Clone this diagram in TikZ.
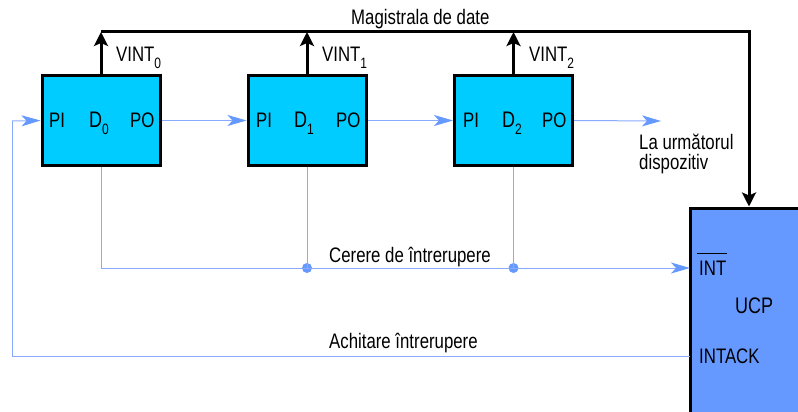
\documentclass[tikz,border=0pt]{standalone}
\usepackage{fontspec}
\setmainfont{Liberation Sans}[FakeStretch=0.8]
\usetikzlibrary{arrows.meta}
\definecolor{cyanbox}{HTML}{00CCFF}
\definecolor{ucpblue}{HTML}{6699FF}
\definecolor{wirecol}{HTML}{88AAFF}
\newcommand\lowsub[1]{\raisebox{-0.55ex}{\fontsize{15}{15}\selectfont #1}}
\begin{document}
\begin{tikzpicture}[x=1pt,y=-1pt,
  devbox/.style={draw=black, line width=3pt, fill=cyanbox, minimum width=118pt, minimum height=89pt, inner sep=0pt},
  cpubox/.style={draw=black, line width=3pt, fill=ucpblue, minimum width=140pt, minimum height=232pt, inner sep=0pt},
  wire/.style={draw=wirecol, line width=1pt},
  warrow/.style={wire, -{Stealth[length=19pt,width=11pt,inset=5pt,color=ucpblue]}},
  bus/.style={draw=black, line width=3pt},
  busarrow/.style={bus, -{Stealth[length=14pt,width=14pt,inset=3pt]}},
  txt/.style={inner sep=0pt, anchor=base west, font=\fontsize{21}{25}\selectfont},
  bigtxt/.style={inner sep=0pt, anchor=base west, font=\fontsize{22.5}{26}\selectfont},
  jdot/.style={fill=ucpblue, draw=none, circle, minimum size=10pt, inner sep=0pt}
]
\useasboundingbox (0,0) rectangle (798,412);
% boxes
\node[devbox] (d0) at (101,120.5) {};
\node[devbox] (d1) at (307,120.5) {};
\node[devbox] (d2) at (513.5,120.5) {};
\node[cpubox] (ucp) at (760,324) {};
% coordinates
\coordinate (b0) at (101,32);
\coordinate (b1) at (307,32);
\coordinate (b2) at (513.5,32);
\coordinate (bE) at (749,32);
\coordinate (nx) at (661,121);
\coordinate (fbT) at (12,121);
\coordinate (fbL) at (12,356);
\coordinate (ackp) at (690,356);
\coordinate (intp) at (690,268);
\coordinate (r0) at (101,268);
% bus
\draw[busarrow] (d0.north) -- (b0);
\draw[busarrow] (d1.north) -- (b1);
\draw[busarrow] (d2.north) -- (b2);
\draw[busarrow] (b0) -- (bE) -- (ucp.north -| bE);
% daisy chain
\draw[warrow] (fbT) -- (d0.west);
\draw[warrow] (d0.east) -- (d1.west);
\draw[warrow] (d1.east) -- (d2.west);
\draw[warrow] (d2.east) -- (nx);
\draw[wire] (ackp) -- (fbL) -- (fbT);
% interrupt request
\node[jdot] (j1) at (307,268) {};
\node[jdot] (j2) at (513.5,268) {};
\draw[wire] (d0.south) -- (r0) -- (j1.center);
\draw[wire] (d1.south) -- (j1.center);
\draw[wire] (d2.south) -- (j2.center);
\draw[warrow] (j1.center) -- (intp);
% labels
\node[txt] (lbus) at (351,25) {Magistrala de date};
\node[txt] (v0) at (116,62) {VINT\lowsub{0}};
\node[txt] (v1) at (322,62) {VINT\lowsub{1}};
\node[txt] (v2) at (529,62) {VINT\lowsub{2}};
\node[txt] (pi0) at (49,128) {PI};
\node[txt] (po0) at (130,128) {PO};
\node[bigtxt] (n0) at (89,128) {D\lowsub{0}};
\node[txt] (pi1) at (256,128) {PI};
\node[txt] (po1) at (336,128) {PO};
\node[bigtxt] (n1) at (294,128) {D\lowsub{1}};
\node[txt] (pi2) at (463,128) {PI};
\node[txt] (po2) at (542,128) {PO};
\node[bigtxt] (n2) at (502,128) {D\lowsub{2}};
\node[txt] (nxt1) at (639,149) {La următorul};
\node[txt] (nxt2) at (639,169) {dispozitiv};
\node[txt] (lcer) at (329,262) {Cerere de întrerupere};
\node[txt] (lach) at (329,348) {Achitare întrerupere};
\node[txt] (lint) at (699,275) {INT};
\draw[black, line width=1pt] (697,253) -- (727,253);
\node[txt] (lack) at (699,363) {INTACK};
\node[bigtxt] (lucp) at (735,313) {UCP};
\end{tikzpicture}
\end{document}
